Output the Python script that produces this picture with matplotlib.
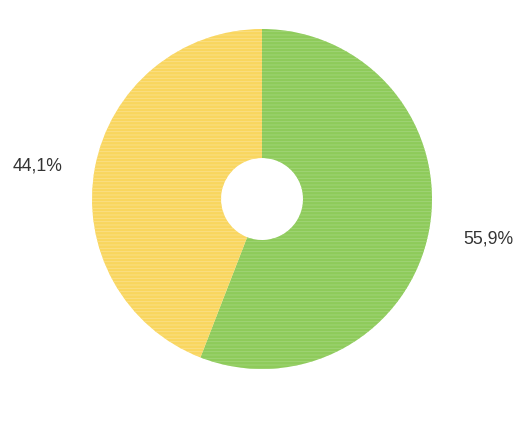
import matplotlib
matplotlib.use("Agg")
import matplotlib.pyplot as plt

labels = ["55,9%", "44,1%"]
values = [55.9, 44.1]
colors = ["#8ecb5a", "#f9d65e"]

plt.rcParams['font.family'] = ['Liberation Sans', 'DejaVu Sans']
plt.rcParams['hatch.linewidth'] = 0.6

W, H = 520, 428
fig = plt.figure(figsize=(W / 100, H / 100), dpi=100)
cx, cy, r = 262, 199, 170
ax = fig.add_axes([(cx - r) / W, (H - cy - r) / H, 2 * r / W, 2 * r / H])
ax.axis('off')

wedges, _ = ax.pie(values, colors=colors, startangle=90, counterclock=False,
                   radius=1, wedgeprops=dict(width=1 - 41 / 170, linewidth=0))
hatch_cols = ["#a3d57a", "#fbe08a"]
for w, hc in zip(wedges, hatch_cols):
    w.set_hatch('-----')
    w.set_edgecolor(hc)
    w.set_linewidth(0)

ax.set_xlim(-1, 1)
ax.set_ylim(-1, 1)
ax.set_aspect('equal')

def px_to_data(x, y):
    return (x - cx) / r, (cy - y) / r

for lab, (px, py) in zip(labels, [(488, 239), (38, 166)]):
    dx, dy = px_to_data(px, py)
    ax.text(dx, dy, lab, ha='center', va='center', fontsize=12.7,
            color='#333333', clip_on=False)

fig.savefig("out.png", dpi=100, facecolor='white')
